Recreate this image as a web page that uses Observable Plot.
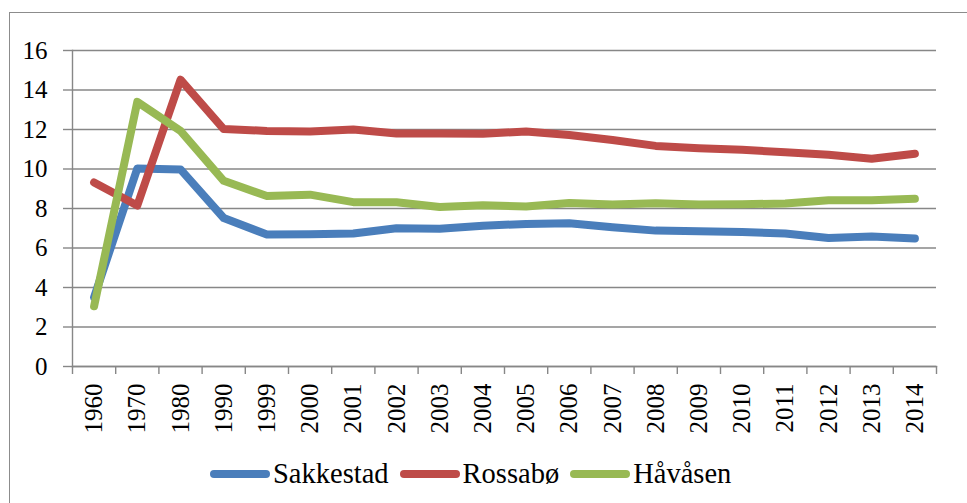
<!DOCTYPE html>
<html><head><meta charset="utf-8">
<script src="https://cdn.jsdelivr.net/npm/d3@7"></script>
<script src="https://cdn.jsdelivr.net/npm/@observablehq/plot@0.6"></script>
<style>
body{margin:0;background:#fff;overflow:hidden}
#wrap{position:relative;width:967px;height:503px;overflow:hidden;font-family:"Liberation Serif","DejaVu Serif",serif;background:#fff}
#frame{position:absolute;left:9px;top:12px;width:1000px;height:600px;border:1.5px solid #8c8c8c;box-sizing:border-box}
#chart{position:absolute;left:0;top:0}
#legend{position:absolute;left:210px;top:455px;height:38px;display:flex;align-items:center;font-size:28.5px;color:#000;white-space:nowrap}
.sw{display:inline-block;width:60px;height:8px;border-radius:4px;margin-right:3px}
.lab{margin-right:11px}
</style>
</head><body>
<div id="wrap"><div id="frame"></div><div id="chart"></div><div id="legend"></div></div>
<script>
const years = ["1960","1970","1980","1990","1999","2000","2001","2002","2003","2004","2005","2006","2007","2008","2009","2010","2011","2012","2013","2014"];
const seriesNames = ["Sakkestad","Rossabø","Håvåsen"];
const colors = ["#4A7EBB","#BE4B48","#98B954"];
const sakkestad = [3.5,10.03,9.98,7.52,6.68,6.7,6.73,7.0,6.97,7.13,7.22,7.25,7.05,6.88,6.85,6.81,6.73,6.51,6.58,6.48];
const rossabo = [9.32,8.15,14.52,12.02,11.93,11.9,12.0,11.8,11.8,11.78,11.9,11.72,11.47,11.17,11.05,10.97,10.85,10.72,10.52,10.77];
const havasen = [3.05,13.4,11.93,9.4,8.63,8.7,8.32,8.32,8.08,8.17,8.1,8.28,8.2,8.27,8.2,8.22,8.25,8.42,8.42,8.49];
const yTicks = [0,2,4,6,8,10,12,14,16];

const seriesValues = [sakkestad, rossabo, havasen];
const data = [];
seriesValues.forEach((vals, s) => vals.forEach((v, i) => data.push({series: seriesNames[s], i, value: v})));
const idx = years.map((_, i) => i);
const bounds = years.map((_, i) => i - 0.5).concat([years.length - 0.5]);
const grid = "#878787";

const chart = Plot.plot({
  width: 967, height: 445,
  marginLeft: 72, marginRight: 31, marginTop: 50, marginBottom: 79,
  style: {fontFamily: "'Liberation Serif', 'DejaVu Serif', serif", fontSize: "25px", color: "#000", background: "transparent", overflow: "visible"},
  x: {type: "linear", domain: [-0.5, years.length - 0.5]},
  y: {domain: [0, 16]},
  color: {domain: seriesNames, range: colors},
  marks: [
    Plot.gridY({ticks: yTicks, stroke: grid, strokeOpacity: 1, strokeWidth: 1.4}),
    Plot.axisY({ticks: yTicks, tickSize: 9, tickPadding: 16, stroke: grid, strokeWidth: 1.4, label: null, fill: "#000"}),
    Plot.frame({anchor: "left", stroke: grid, strokeWidth: 1.4}),
    Plot.frame({anchor: "bottom", stroke: grid, strokeWidth: 1.4}),
    Plot.axisX({ticks: bounds, tickSize: 8, tickFormat: () => "", stroke: grid, strokeWidth: 1.4, label: null}),
    Plot.axisX({ticks: idx, tickSize: 0, tickPadding: 17, tickRotate: -90, tickFormat: i => years[i], textAnchor: "end", lineAnchor: "middle", label: null, fill: "#000"}),
    ...seriesNames.map(name => Plot.line(data.filter(d => d.series === name), {x: "i", y: "value", stroke: "series", strokeWidth: 8, strokeLinecap: "round", strokeLinejoin: "round"}))
  ]
});
document.getElementById("chart").appendChild(chart);

const legend = document.getElementById("legend");
seriesNames.forEach((name, k) => {
  const sw = document.createElement("span"); sw.className = "sw"; sw.style.background = colors[k];
  const lab = document.createElement("span"); lab.className = "lab"; lab.textContent = name;
  legend.appendChild(sw); legend.appendChild(lab);
});
</script>
</body></html>
